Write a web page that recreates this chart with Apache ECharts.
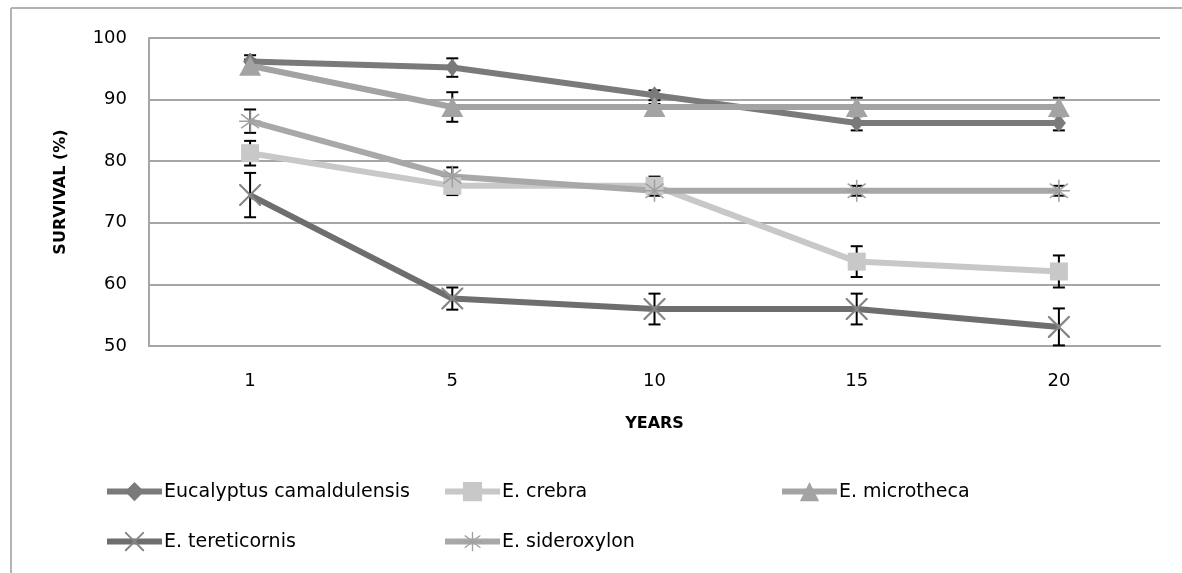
<!DOCTYPE html>
<html>
<head>
<meta charset="utf-8">
<script src="https://cdn.jsdelivr.net/npm/echarts@6/dist/echarts.min.js"></script>
<style>
html,body{margin:0;padding:0;background:#fff;}
#main{width:1182px;height:573px;}
</style>
</head>
<body>
<div id="main"></div>
<script>
const years = ['1', '5', '10', '15', '20'];
const seriesNames = ['Eucalyptus camaldulensis', 'E. crebra', 'E. microtheca', 'E. tereticornis', 'E. sideroxylon'];
const camaldulensis = [96.2, 95.2, 90.7, 86.2, 86.2];
const crebra = [81.3, 76.0, 76.0, 63.7, 62.1];
const microtheca = [95.5, 88.8, 88.8, 88.8, 88.8];
const tereticornis = [74.5, 57.7, 56.0, 56.0, 53.1];
const sideroxylon = [86.5, 77.5, 75.2, 75.2, 75.2];
const errCamaldulensis = [1.0, 1.5, 0.8, 1.2, 1.2];
const errCrebra = [2.0, 1.5, 1.5, 2.5, 2.6];
const errMicrotheca = [1.0, 2.4, 0.5, 1.5, 1.5];
const errTereticornis = [3.6, 1.8, 2.5, 2.5, 3.0];
const errSideroxylon = [1.9, 1.5, 0.8, 0.8, 0.8];
const yTicks = [50, 60, 70, 80, 90, 100];

const FONT = '"DejaVu Sans", sans-serif';
const colors = ['#7a7a7a', '#c8c8c8', '#a3a3a3', '#6e6e6e', '#a8a8a8'];
const symbolColors = ['#7a7a7a', '#c8c8c8', '#a3a3a3', '#858585', '#a0a0a0'];
const values = [camaldulensis, crebra, microtheca, tereticornis, sideroxylon];
const errs = [errCamaldulensis, errCrebra, errMicrotheca, errTereticornis, errSideroxylon];
const xPath = 'path://M0,0 L1.4,0 L10,8.6 L18.6,0 L20,0 L20,1.4 L11.4,10 L20,18.6 L20,20 L18.6,20 L10,11.4 L1.4,20 L0,20 L0,18.6 L8.6,10 L0,1.4 Z';
const starPath = 'path://M9.3,0 L10.7,0 L10.7,8.2 L17.8,3 L18.6,4.1 L11.6,9.3 L20,9.3 L20,10.7 L11.6,10.7 L18.6,15.9 L17.8,17 L10.7,11.8 L10.7,20 L9.3,20 L9.3,11.8 L2.2,17 L1.4,15.9 L8.4,10.7 L0,10.7 L0,9.3 L8.4,9.3 L1.4,4.1 L2.2,3 L9.3,8.2 Z';
const symbols = ['diamond', 'rect', 'triangle', xPath, starPath];
const symbolSizes = [[14, 18], 18, [22, 20], 22, 22];

const chart = echarts.init(document.getElementById('main'));

const lineSeries = seriesNames.map((name, i) => ({
  name: name,
  type: 'line',
  data: values[i],
  symbol: symbols[i],
  symbolSize: symbolSizes[i],
  showAllSymbol: true,
  z: 3,
  lineStyle: { color: colors[i], width: 6 },
  itemStyle: { color: symbolColors[i], borderWidth: 0 },
  emphasis: { disabled: true },
  animation: false
}));

const errSeries = seriesNames.map((name, i) => ({
  type: 'custom',
  z: 2,
  silent: true,
  animation: false,
  data: values[i].map((v, j) => [j, v, errs[i][j]]),
  renderItem: function (params, api) {
    const x = api.value(0), v = api.value(1), e = api.value(2);
    const top = api.coord([x, v + e]);
    const bot = api.coord([x, v - e]);
    const hw = 6;
    const st = { stroke: '#000', lineWidth: 2 };
    return {
      type: 'group',
      children: [
        { type: 'line', shape: { x1: top[0], y1: top[1], x2: bot[0], y2: bot[1] }, style: st },
        { type: 'line', shape: { x1: top[0] - hw, y1: top[1], x2: top[0] + hw, y2: top[1] }, style: st },
        { type: 'line', shape: { x1: bot[0] - hw, y1: bot[1], x2: bot[0] + hw, y2: bot[1] }, style: st }
      ]
    };
  }
}));

const legendPos = [[99, 477], [437, 477], [774, 477], [99, 527], [437, 527]];
const legends = seriesNames.map((name, i) => ({
  data: [name],
  left: legendPos[i][0],
  top: legendPos[i][1],
  itemWidth: 55,
  itemHeight: 24,
  itemGap: 4,
  selectedMode: false,
  lineStyle: { width: 6 },
  textStyle: { fontFamily: FONT, fontSize: 19, color: '#000', padding: [0, 0, 0, -3] }
}));

chart.setOption({
  backgroundColor: '#fff',
  animation: false,
  grid: { left: 149, right: 22, top: 38, bottom: 227 },
  legend: legends,
  xAxis: {
    type: 'category',
    data: years,
    boundaryGap: true,
    name: 'YEARS',
    nameLocation: 'middle',
    nameGap: 70,
    nameTextStyle: { fontFamily: FONT, fontWeight: 'bold', fontSize: 16, color: '#000' },
    axisLine: { lineStyle: { color: '#a6a6a6', width: 2 } },
    axisTick: { show: false },
    axisLabel: { fontFamily: FONT, fontSize: 18, color: '#000', margin: 26 }
  },
  yAxis: {
    type: 'value',
    min: 50,
    max: 100,
    interval: 10,
    name: 'SURVIVAL (%)',
    nameLocation: 'middle',
    nameGap: 80,
    nameTextStyle: { fontFamily: FONT, fontWeight: 'bold', fontSize: 16, color: '#000' },
    axisLine: { show: true, lineStyle: { color: '#a6a6a6', width: 2 } },
    axisTick: { show: false },
    splitLine: { lineStyle: { color: '#a6a6a6', width: 2 } },
    axisLabel: { fontFamily: FONT, fontSize: 18, color: '#000', margin: 22,
      formatter: function (v) { return yTicks.indexOf(v) >= 0 ? String(v) : ''; } }
  },
  graphic: [
    { type: 'line', shape: { x1: 11, y1: 8, x2: 1182, y2: 8 }, style: { stroke: '#b3b3b3', lineWidth: 2 } },
    { type: 'line', shape: { x1: 11, y1: 8, x2: 11, y2: 573 }, style: { stroke: '#b3b3b3', lineWidth: 2 } }
  ],
  series: errSeries.concat(lineSeries)
});
</script>
</body>
</html>
